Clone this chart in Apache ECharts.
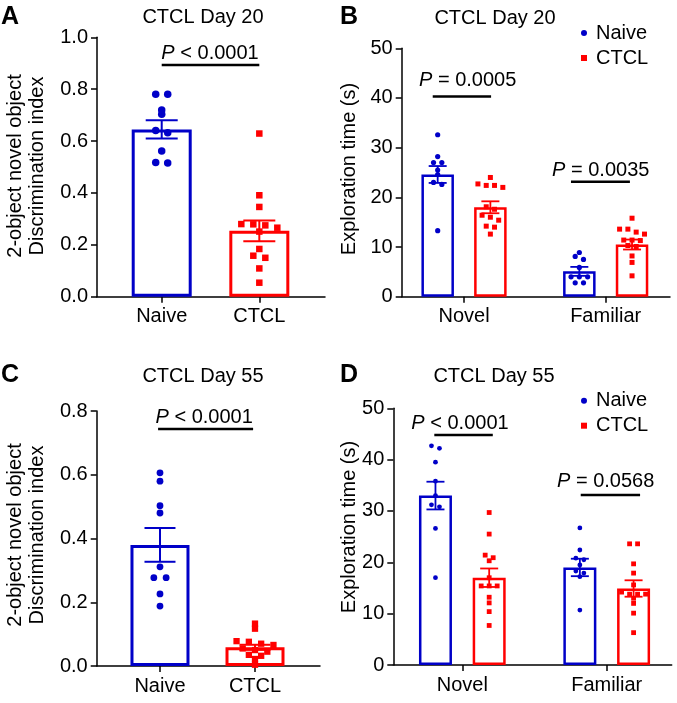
<!DOCTYPE html>
<html>
<head>
<meta charset="utf-8">
<script src="https://cdn.jsdelivr.net/npm/echarts@6/dist/echarts.min.js"></script>
<style>
  html, body { margin: 0; padding: 0; background: #fff; }
  #chart { width: 677px; height: 703px; }
</style>
</head>
<body>
<div id="chart"></div>
<script>
// ---------------- DATA ----------------
const groupCats = ['Naive', 'CTCL'];
const objectCats = ['Novel', 'Familiar'];
const legendNames = ['Naive', 'CTCL'];

// Panel A – CTCL Day 20, discrimination index
const aMean = [0.645, 0.254];
const aSem = [0.035, 0.040];
const aNaive = [0.780, 0.780, 0.720, 0.703, 0.641, 0.632, 0.562, 0.517, 0.515];
const aCtcl = [0.629, 0.391, 0.346, 0.280, 0.279, 0.275, 0.266, 0.251, 0.184, 0.158, 0.150, 0.109, 0.054];
const aTicks = [0, 0.2, 0.4, 0.6, 0.8, 1.0];
const aP = ['< 0.0001'];

// Panel B – CTCL Day 20, exploration time (s) [Novel, Familiar]
const bNaiveMean = [24.6, 5.1];
const bNaiveSem = [1.7, 0.9];
const bCtclMean = [18.0, 10.5];
const bCtclSem = [1.2, 1.0];
const bNaiveNovel = [32.6, 28.2, 27.0, 27.0, 25.5, 24.6, 23.0, 22.6, 13.3];
const bCtclNovel = [24.0, 22.7, 22.4, 22.4, 22.0, 18.1, 17.6, 16.4, 16.0, 15.4, 14.2, 14.0, 12.6];
const bNaiveFam = [8.9, 8.1, 7.5, 5.9, 4.0, 4.0, 4.0, 2.8, 2.8];
const bCtclFam = [15.8, 13.6, 13.6, 13.0, 12.6, 11.4, 11.4, 11.3, 10.3, 10.1, 8.2, 6.9, 4.2];
const bTicks = [0, 10, 20, 30, 40, 50];
const bP = ['= 0.0005', '= 0.0035'];

// Panel C – CTCL Day 55, discrimination index
const cMean = [0.380, 0.0586];
const cSem = [0.053, 0.008];
const cNaive = [0.606, 0.580, 0.503, 0.480, 0.311, 0.277, 0.277, 0.226, 0.188];
const cCtcl = [0.133, 0.117, 0.078, 0.076, 0.070, 0.066, 0.055, 0.050, 0.045, 0.035, 0.032, 0.022, 0.004];
const cTicks = [0, 0.2, 0.4, 0.6, 0.8];
const cP = ['< 0.0001'];

// Panel D – CTCL Day 55, exploration time (s) [Novel, Familiar]
const dNaiveMean = [33.0, 19.0];
const dNaiveSem = [2.7, 1.7];
const dCtclMean = [17.0, 14.9];
const dCtclSem = [1.8, 1.6];
const dNaiveNovel = [42.7, 42.2, 39.5, 35.8, 33.0, 31.2, 30.8, 26.6, 17.0];
const dCtclNovel = [29.7, 25.5, 21.4, 20.9, 20.3, 17.0, 15.4, 15.4, 15.4, 13.2, 12.1, 10.4, 7.7];
const dNaiveFam = [26.7, 22.4, 20.8, 20.5, 19.5, 18.3, 17.9, 17.2, 10.7];
const dCtclFam = [23.6, 23.6, 19.7, 17.9, 15.6, 14.2, 13.8, 13.8, 13.8, 13.0, 12.0, 10.1, 6.3];
const dTicks = [0, 10, 20, 30, 40, 50];
const dP = ['< 0.0001', '= 0.0568'];

// ---------------- STYLE / LAYOUT ----------------
const FF = '"Liberation Sans", Arial, Helvetica, sans-serif';
const BLUE = '#0000c8';
const RED = '#ff0000';
const OFF = 0.186; // side-by-side group offset in category units (B, D)

const panels = [
  { key: 'A', grid: { left: 97, top: 37.3, width: 228, height: 259.4 }, xr: [-0.663, 1.673], ticks: aTicks, dec: 1,
    cats: groupCats, barW: 60, bw: 3, cap: 16, ew: 2, step: 12, thr: 3.5, dot: 7.5, sq: 6.5,
    brackets: [[0, 1, 0.893, 0.495, 0.938]], pLabels: aP,
    groups: [
      { name: 'A-Naive', color: BLUE, sym: 'circle', entries: [{ x: 0, mean: aMean[0], sem: aSem[0], pts: aNaive }] },
      { name: 'A-CTCL', color: RED, sym: 'rect', entries: [{ x: 1, mean: aMean[1], sem: aSem[1], pts: aCtcl }] }
    ] },
  { key: 'B', grid: { left: 401.7, top: 48.3, width: 268.3, height: 248.4 }, xr: [-0.44, 1.454], ticks: bTicks, dec: 0,
    cats: objectCats, barW: 32.5, bw: 2.5, cap: 9, ew: 1.8, step: 8.3, thr: 3, dot: 5.2, sq: 5,
    brackets: [[-0.221, 0.191, 40.3, 0.026, 43.6], [0.755, 1.171, 23.15, 0.965, 25.35]], pLabels: bP,
    legendTop: 18,
    groups: [
      { name: 'Naive', color: BLUE, sym: 'circle', entries: [
        { x: 0 - OFF, mean: bNaiveMean[0], sem: bNaiveSem[0], pts: bNaiveNovel },
        { x: 1 - OFF, mean: bNaiveMean[1], sem: bNaiveSem[1], pts: bNaiveFam }] },
      { name: 'CTCL', color: RED, sym: 'rect', entries: [
        { x: 0 + OFF, mean: bCtclMean[0], sem: bCtclSem[0], pts: bCtclNovel },
        { x: 1 + OFF, mean: bCtclMean[1], sem: bCtclSem[1], pts: bCtclFam }] }
    ] },
  { key: 'C', grid: { left: 96.7, top: 411, width: 223.3, height: 255 }, xr: [-0.666, 1.684], ticks: cTicks, dec: 1,
    cats: groupCats, barW: 59, bw: 3, cap: 15.5, ew: 2, step: 12.3, thr: 3.0, dot: 6.8, sq: 6.3,
    brackets: [[-0.02, 0.98, 0.7435, 0.465, 0.780]], pLabels: cP,
    groups: [
      { name: 'C-Naive', color: BLUE, sym: 'circle', entries: [{ x: 0, mean: cMean[0], sem: cSem[0], pts: cNaive }] },
      { name: 'C-CTCL', color: RED, sym: 'rect', entries: [{ x: 1, mean: cMean[1], sem: cSem[1], pts: cCtcl }] }
    ] },
  { key: 'D', grid: { left: 393.3, top: 408.3, width: 278.4, height: 256.7 }, xr: [-0.478, 1.45], ticks: dTicks, dec: 0,
    cats: objectCats, barW: 33, bw: 2.5, cap: 9, ew: 1.8, step: 8, thr: 3, dot: 4.8, sq: 4.8,
    brackets: [[-0.194, 0.211, 44.8, -0.016, 47.0], [0.820, 1.231, 33.1, 0.993, 35.7]], pLabels: dP,
    legendTop: 385.7,
    groups: [
      { name: 'Naive', color: BLUE, sym: 'circle', entries: [
        { x: 0 - OFF, mean: dNaiveMean[0], sem: dNaiveSem[0], pts: dNaiveNovel },
        { x: 1 - OFF, mean: dNaiveMean[1], sem: dNaiveSem[1], pts: dNaiveFam }] },
      { name: 'CTCL', color: RED, sym: 'rect', entries: [
        { x: 0 + OFF, mean: dCtclMean[0], sem: dCtclSem[0], pts: dCtclNovel },
        { x: 1 + OFF, mean: dCtclMean[1], sem: dCtclSem[1], pts: dCtclFam }] }
    ] }
];

const grids = [], xAxes = [], yAxes = [], series = [], legends = [], scatterDefs = [];

panels.forEach((p, gi) => {
  grids.push(Object.assign({ containLabel: false }, p.grid));
  xAxes.push({
    type: 'value', gridIndex: gi, min: p.xr[0], max: p.xr[1],
    axisLine: { show: true, onZero: false, lineStyle: { color: '#000', width: 1.5 } },
    axisTick: { show: true, customValues: [0, 1], length: 6, lineStyle: { color: '#000', width: 1.5 } },
    axisLabel: { show: true, customValues: [0, 1], formatter: v => p.cats[Math.round(v)],
      fontSize: 20, fontFamily: FF, color: '#000', margin: 10 },
    splitLine: { show: false }
  });
  const tk = p.ticks;
  yAxes.push({
    type: 'value', gridIndex: gi, min: tk[0], max: tk[tk.length - 1], interval: tk[1] - tk[0],
    axisLine: { show: true, onZero: false, lineStyle: { color: '#000', width: 1.5 } },
    axisTick: { show: true, length: 6, lineStyle: { color: '#000', width: 1.5 } },
    axisLabel: { show: true, formatter: v => Number(v).toFixed(p.dec), fontSize: 20, fontFamily: FF, color: '#000', margin: 9 },
    splitLine: { show: false }
  });

  // bars
  const barData = [];
  p.groups.forEach(g => g.entries.forEach(e => barData.push({
    value: [e.x, e.mean],
    itemStyle: { color: '#fff', borderColor: g.color, borderWidth: p.bw }
  })));
  series.push({ type: 'bar', id: 'bar-' + p.key, xAxisIndex: gi, yAxisIndex: gi, barWidth: p.barW, z: 2,
    silent: true, animation: false, data: barData });

  // error bars + scatter
  p.groups.forEach((g, gk) => {
    series.push({
      type: 'custom', id: 'err-' + p.key + gk, xAxisIndex: gi, yAxisIndex: gi, z: 3, silent: true, clip: false,
      encode: { x: 0, y: 1 },
      data: g.entries.map(e => [e.x, e.mean, e.sem]),
      renderItem: (params, api) => {
        const x = api.value(0), m = api.value(1), s = api.value(2);
        const t = api.coord([x, m + s]), b = api.coord([x, m - s]);
        const cx = t[0];
        const st = { stroke: g.color, lineWidth: p.ew };
        return { type: 'group', children: [
          { type: 'line', shape: { x1: cx, y1: t[1], x2: cx, y2: b[1] }, style: st },
          { type: 'line', shape: { x1: cx - p.cap, y1: t[1], x2: cx + p.cap, y2: t[1] }, style: st },
          { type: 'line', shape: { x1: cx - p.cap, y1: b[1], x2: cx + p.cap, y2: b[1] }, style: st }
        ] };
      }
    });
    g.entries.forEach((e, ek) => {
      const id = 'sc-' + p.key + gk + ek;
      scatterDefs.push({ id, gi, e, p });
      series.push({
        type: 'scatter', id, name: g.name, xAxisIndex: gi, yAxisIndex: gi, z: 4, silent: true,
        symbol: g.sym, symbolSize: g.sym === 'circle' ? p.dot : p.sq,
        itemStyle: { color: g.color, opacity: 1 },
        data: e.pts.map(v => [e.x, v])
      });
    });
  });

  // significance brackets
  series.push({
    type: 'custom', id: 'br-' + p.key, xAxisIndex: gi, yAxisIndex: gi, z: 5, silent: true, clip: false,
    encode: { x: 0, y: 2 },
    data: p.brackets.map((b, i) => b.concat([i])),
    renderItem: (params, api) => {
      const x1 = api.value(0), x2 = api.value(1), yl = api.value(2), xt = api.value(3), yt = api.value(4);
      const idx = api.value(5);
      const a = api.coord([x1, yl]), c = api.coord([x2, yl]), t = api.coord([xt, yt]);
      return { type: 'group', children: [
        { type: 'line', shape: { x1: a[0], y1: a[1], x2: c[0], y2: c[1] }, style: { stroke: '#000', lineWidth: 2.5 } },
        { type: 'text', x: t[0], y: t[1], style: {
          text: '{i|P}{n| ' + p.pLabels[idx] + '}',
          align: 'center', verticalAlign: 'middle', fill: '#000',
          font: '20px ' + FF,
          rich: { i: { font: 'italic 20px ' + FF, fill: '#000' }, n: { font: '20px ' + FF, fill: '#000' } }
        } }
      ] };
    }
  });

  if (p.legendTop !== undefined) {
    legends.push({
      data: [{ name: legendNames[0], icon: 'circle' }, { name: legendNames[1], icon: 'rect' }],
      orient: 'vertical', left: 576, top: p.legendTop, itemWidth: 6, itemHeight: 6, itemGap: 5,
      selectedMode: false,
      textStyle: { fontSize: 20, fontFamily: FF, color: '#000', padding: [0, 0, 0, 4] }
    });
  }
});

const txt = (x, y, text, font, align) => ({
  type: 'text', x, y, silent: true,
  style: { text, font, fill: '#000', align: align || 'center', verticalAlign: 'middle' }
});
const vtxt = (x, y, text) => ({
  type: 'text', x, y, rotation: Math.PI / 2, silent: true,
  style: { text, font: '20px ' + FF, lineHeight: 22, fill: '#000', align: 'center', verticalAlign: 'middle' }
});

const graphics = [
  txt(1, 17, 'A', 'bold 25px ' + FF, 'left'),
  txt(340, 17, 'B', 'bold 25px ' + FF, 'left'),
  txt(1, 375, 'C', 'bold 25px ' + FF, 'left'),
  txt(340, 375, 'D', 'bold 25px ' + FF, 'left'),
  txt(203, 17, 'CTCL Day 20', '20px ' + FF),
  txt(495, 18, 'CTCL Day 20', '20px ' + FF),
  txt(203, 376, 'CTCL Day 55', '20px ' + FF),
  txt(494, 376, 'CTCL Day 55', '20px ' + FF),
  vtxt(26, 166, '2-object novel object\nDiscrimination index'),
  vtxt(26, 535, '2-object novel object\nDiscrimination index'),
  vtxt(349, 169, 'Exploration time (s)'),
  vtxt(349, 527, 'Exploration time (s)')
];

const chart = echarts.init(document.getElementById('chart'), null, { renderer: 'canvas' });
chart.setOption({
  animation: false,
  backgroundColor: '#fff',
  grid: grids, xAxis: xAxes, yAxis: yAxes,
  legend: legends,
  graphic: { elements: graphics },
  series
});

// beeswarm-style horizontal spreading of points that share (nearly) the same value
function swarm(gi, xc, values, step, thr) {
  const py = values.map(v => chart.convertToPixel({ gridIndex: gi }, [xc, v])[1]);
  const ppu = chart.convertToPixel({ gridIndex: gi }, [1, 0])[0] - chart.convertToPixel({ gridIndex: gi }, [0, 0])[0];
  const order = values.map((v, i) => i).sort((a, b) => py[a] - py[b]);
  const offs = new Array(values.length).fill(0);
  let cl = [order[0]];
  const flush = () => { const n = cl.length; cl.forEach((idx, k) => { offs[idx] = (k - (n - 1) / 2) * step / ppu; }); };
  for (let k = 1; k < order.length; k++) {
    const idx = order[k], prev = cl[cl.length - 1];
    if (py[idx] - py[prev] < thr) cl.push(idx); else { flush(); cl = [idx]; }
  }
  flush();
  return offs;
}

const upd = scatterDefs.map(d => {
  const offs = swarm(d.gi, d.e.x, d.e.pts, d.p.step, d.p.thr);
  return { id: d.id, data: d.e.pts.map((v, i) => [d.e.x + offs[i], v]) };
});
chart.setOption({ series: upd });
</script>
</body>
</html>
